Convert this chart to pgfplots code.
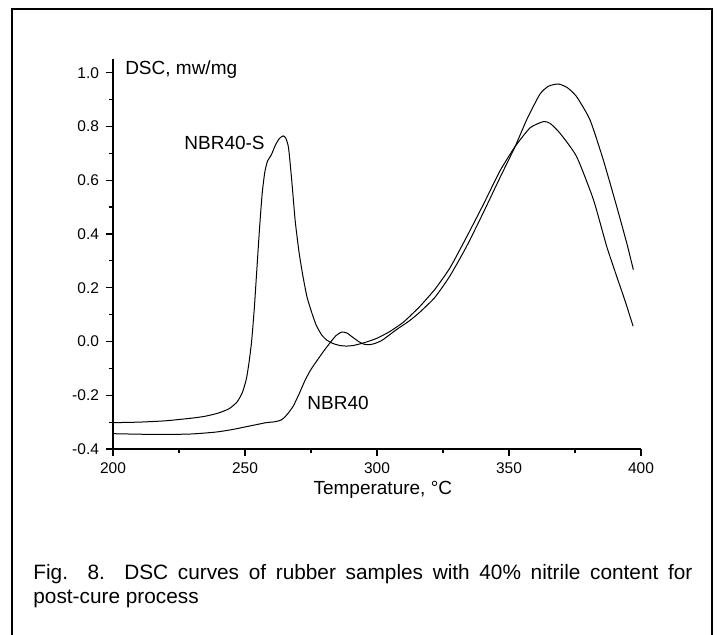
\documentclass[border=0pt]{standalone}
\usepackage{fontspec}
\setmainfont{Liberation Sans}
\usepackage{pgfplots}
\usepackage{pgfplotstable}
\pgfplotsset{compat=1.18}

% NBR40-S (sulfur post-cure sample)
\pgfplotstableread{
T v
200 -0.302
210 -0.300
220 -0.295
230 -0.285
235 -0.278
240 -0.266
244 -0.250
247 -0.225
249 -0.190
250.5 -0.140
251.5 -0.080
252.5 0.000
253.5 0.120
254.5 0.270
255.5 0.420
256.5 0.550
257.5 0.630
258.5 0.670
260 0.695
261.5 0.730
263 0.755
264.5 0.765
265.5 0.755
266.5 0.720
267.7 0.600
269 0.450
270.5 0.330
272 0.240
273.5 0.165
275.3 0.107
277 0.060
279 0.025
281 0.005
283.5 -0.008
286 -0.015
288.5 -0.017
291 -0.015
295 -0.005
300 0.012
305 0.038
310 0.072
316 0.128
322 0.195
327.7 0.275
334 0.390
340.3 0.510
346.6 0.635
352.3 0.725
358 0.795
363 0.818
365.5 0.812
369.3 0.775
375.6 0.688
382 0.527
387 0.354
390.8 0.242
394 0.150
397 0.057
}\nbrS

% NBR40
\pgfplotstableread{
T v
200 -0.343
210 -0.345
220 -0.346
230 -0.344
239 -0.337
245 -0.328
250 -0.318
255 -0.308
258 -0.302
261 -0.299
263.5 -0.293
265 -0.282
266.5 -0.265
268.3 -0.240
270.5 -0.195
272.5 -0.150
274.6 -0.110
277 -0.075
279.5 -0.040
282.2 -0.005
284.5 0.022
286.6 0.035
288.5 0.032
290.5 0.018
293 0.000
295 -0.010
297 -0.012
299 -0.008
302 0.005
307.5 0.045
312 0.075
316 0.107
322 0.165
327.7 0.245
334 0.355
340.3 0.480
346.6 0.610
352.3 0.725
356.7 0.825
361.7 0.920
365 0.950
368.7 0.958
372 0.945
375.6 0.911
380.7 0.824
385.7 0.676
390.8 0.502
394.6 0.366
397.1 0.267
}\nbr

\begin{document}
\begin{tikzpicture}
\useasboundingbox (0,0) rectangle (358.5pt,-317.5pt);
% outer frame, open at the bottom
\draw[line width=0.8pt] (6pt,-317.5pt) -- (6pt,-4.5pt) -- (356pt,-4.5pt) -- (356pt,-317.5pt);
\begin{axis}[
    at={(56.5pt,-224.5pt)}, anchor=south west,
    scale only axis, width=264pt, height=195pt,
    xmin=200, xmax=400, ymin=-0.4, ymax=1.051,
    axis x line*=bottom, axis y line*=left,
    axis line style={line width=0.9pt,-},
    xtick={200,250,300,350,400},
    ytick={-0.4,-0.2,0,0.2,0.4,0.6,0.8,1.0},
    minor x tick num=1, minor y tick num=1,
    tick align=outside,
    major tick length=3.5pt, minor tick length=2pt,
    tick style={line width=0.6pt,black},
    /pgf/number format/assume math mode=true,
    yticklabel style={/pgf/number format/.cd,fixed,fixed zerofill,precision=1},
    xticklabel style={/pgf/number format/.cd,fixed,precision=0},
    ticklabel style={font=\fontsize{7.75}{9}\selectfont},
    xlabel={Temperature, °C},
    xlabel style={at={(axis description cs:0.511,0)}, anchor=base, yshift=-23pt,
      font=\fontsize{9.5}{11}\selectfont},
    clip=false,
]
\addplot[black, line width=0.5pt, smooth, tension=0.35] table[x=T, y=v] {\nbrS};
\addplot[black, line width=0.5pt, smooth, tension=0.35] table[x=T, y=v] {\nbr};
\node[anchor=base west, inner sep=0, font=\fontsize{9.5}{11}\selectfont] at (axis cs:204.5,0.995) {DSC, mw/mg};
\node[anchor=base west, inner sep=0, font=\fontsize{9.5}{11}\selectfont] at (axis cs:226.9,0.713) {NBR40-S};
\node[anchor=base west, inner sep=0, font=\fontsize{9.5}{11}\selectfont] at (axis cs:273.5,-0.2525) {NBR40};
\end{axis}
\node[anchor=base west, inner sep=0, font=\fontsize{10.4}{12}\selectfont] at (16.5pt,-289.6pt)
  {\hbox to 329.5pt{Fig. 8. DSC curves of rubber samples with 40\% nitrile content for}};
\node[anchor=base west, inner sep=0, font=\fontsize{10.4}{12}\selectfont] at (16.5pt,-301.6pt)
  {post-cure process};
\end{tikzpicture}
\end{document}
